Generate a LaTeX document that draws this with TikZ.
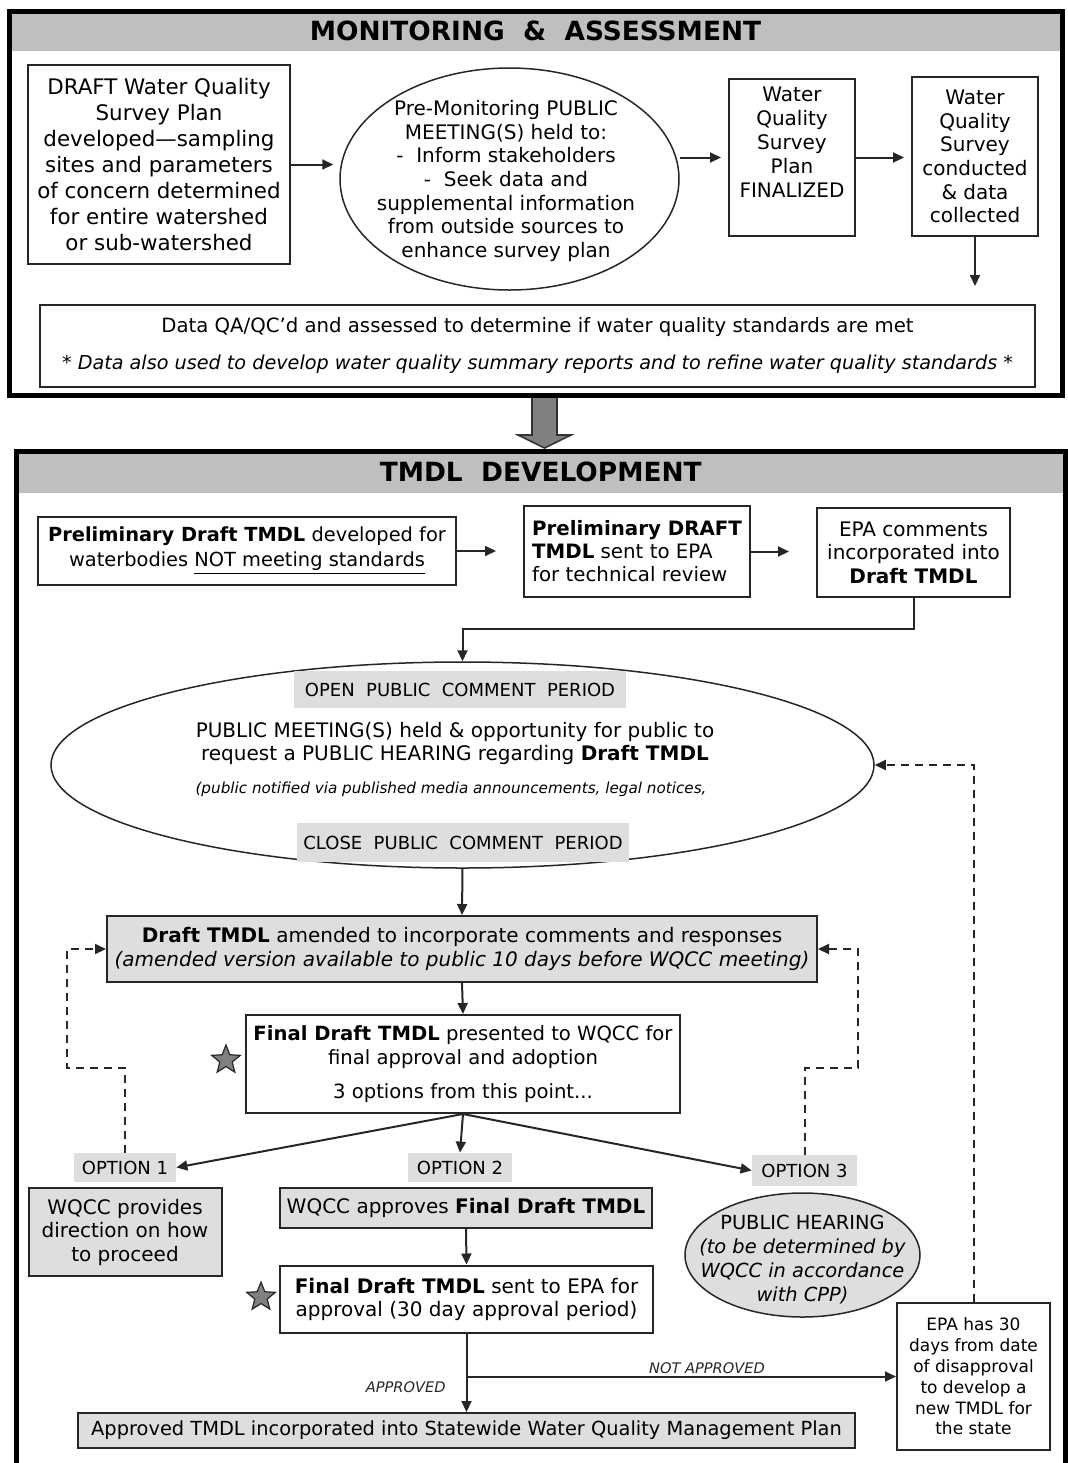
\documentclass[tikz,border=0pt]{standalone}
\usepackage{fontspec}
\setmainfont{DejaVu Sans}
\usepackage{tikz}
\usetikzlibrary{positioning}
\usetikzlibrary{calc}
\usetikzlibrary{shapes.geometric}
\usetikzlibrary{arrows.meta}
\colorlet{panel colour}{black}
\colorlet{heading colour}{black!25}
\colorlet{shade colour}{black!13}
\colorlet{line colour}{black!85}
\colorlet{star colour}{black!50}
\tikzset{
    % Small filled triangles on every flow line
    >={Triangle[length=5.5pt, width=5pt]},
%
    % Fills
    heading fill/.style={fill=heading colour},
    shade fill/.style={fill=shade colour},
    % Lines
    flow/.style={draw, color=line colour, line width=1pt, ->},
    feedback/.style={flow, dash pattern=on 4pt off 3pt},
%
    % Centred text unless a node asks otherwise
    every node/.style={align=center},
    body font/.style={font=\fontsize{10}{12}\selectfont},
%
    panel/.style={draw=panel colour, line width=2.5pt, inner sep=0},
    heading/.style={
        heading fill, inner sep=0, font=\fontsize{13.2}{15}\selectfont\bfseries},
    box/.style={
        draw=line colour, line width=1pt, fill=white, inner sep=0, body font},
    grey box/.style={box, shade fill},
    % Ellipses are drawn empty, their text sits in a node of its own
    meeting/.style={
        ellipse, draw=line colour, line width=0.75pt, inner sep=0},
    tag/.style={shade fill, inner sep=0, font=\fontsize{9}{11}\selectfont},
    outcome/.style={inner sep=1pt, font=\fontsize{7.3}{9}\selectfont\itshape},
    milestone/.style={
        star, star points=5, star point ratio=2.3, draw=line colour,
        fill=star colour, line width=0.6pt, inner sep=0, minimum size=15pt},
    handoff/.style={fill=black!50, draw=black!80, line width=0.8pt},
}

\begin{document}
\begin{tikzpicture}[x=0.5pt, y=-0.5pt]
\useasboundingbox (0,0) rectangle (1067,1463);

% Arrow handing over from the first panel to the second
\draw [handoff] (532,396) -- (557,396) -- (557,435) -- (571,435)
    -- (544.5,448) -- (518,435) -- (532,435) -- cycle;

% Monitoring & assessment
\path
    (535.5,31) node [heading, minimum width=525pt, minimum height=20pt] (monhead)
        {MONITORING\ \ \&\ \ ASSESSMENT}
    (535.5,203) node [panel, minimum width=526.5pt, minimum height=192pt] (monitor) {};

\path
    (159,164.5) node [box, minimum width=131pt, minimum height=99.5pt,
        font=\fontsize{10.7}{13}\selectfont] (draftplan)
        {DRAFT Water Quality\\ Survey Plan\\ developed—sampling\\ sites and parameters\\
         of concern determined\\ for entire watershed\\ or sub-watershed}
    (509.5,179) node [meeting, minimum width=169.5pt, minimum height=111pt] (premeet) {}
    (506,181) node [font=\fontsize{10}{11.85}\selectfont] (premeettext)
        {Pre-Monitoring PUBLIC\\ MEETING(S) held to:\\ -\ \ Inform stakeholders\\
         -\ \ Seek data and\\ supplemental information\\ from outside sources to\\
         enhance survey plan}
    (792,157.5) node [box, minimum width=63pt, minimum height=78.5pt] (finalplan)
        {Water\\ Quality\\ Survey\\ Plan\\ FINALIZED\\ \strut}
    (975,156.5) node [box, minimum width=63pt, minimum height=79.5pt,
        font=\fontsize{10}{11.8}\selectfont] (survey)
        {Water\\ Quality\\ Survey\\ conducted\\ \& data\\ collected}
    (537.5,346) node [box, minimum width=497.5pt, minimum height=41pt,
        font=\fontsize{9.85}{12}\selectfont] (assess)
        {Data QA/QC’d and assessed to determine if water quality standards are met\\[6.5pt]
         \fontsize{9.6}{12}\selectfont
         \textit{* Data also used to develop water quality summary reports and to refine water quality standards *}};

\draw [flow, shorten >=3pt] (draftplan.east) -- (draftplan.east -| premeet.west);
\draw [flow, shorten >=3.5pt] (premeet.east |- finalplan.west) -- (finalplan.west);
\draw [flow, shorten >=3.5pt] (finalplan.east) -- (finalplan.east -| survey.west);
\draw [flow, shorten >=9pt] (survey.south) -- (survey.south |- assess.north);

% TMDL development
\path
    (540.75,472) node [heading, minimum width=524.25pt, minimum height=21pt] (tmdlhead)
        {TMDL\ \ DEVELOPMENT}
    (540.75,965.5) node [panel, minimum width=524.25pt, minimum height=514.5pt] (tmdl) {};

\path
    (247,551) node [box, minimum width=209pt, minimum height=34pt,
        font=\fontsize{9.7}{12.5}\selectfont] (prelim)
        {\textbf{Preliminary Draft TMDL} developed for\\
         waterbodies \underline{NOT meeting standards}}
    (637,551.5) node [box, align=left, minimum width=113pt, minimum height=45.5pt,
        font=\fontsize{9.9}{11.5}\selectfont] (techreview)
        {\textbf{Preliminary DRAFT}\\ \textbf{TMDL} sent to EPA\\ for technical review}
    (913.5,552.5) node [box, minimum width=96.5pt, minimum height=44.5pt,
        font=\fontsize{10}{11.75}\selectfont] (epacomment)
        {EPA comments\\ incorporated into\\ \textbf{Draft TMDL}}
%
    (462.5,765) node [meeting, minimum width=411.5pt, minimum height=103pt] (pubmeet) {}
    (460,689.5) node [tag, minimum width=166pt, minimum height=18.5pt] (opencomment)
        {OPEN\ \ PUBLIC\ \ COMMENT\ \ PERIOD}
    (455,743.5) node [font=\fontsize{10}{11.5}\selectfont] (pubtext)
        {PUBLIC MEETING(S) held \& opportunity for public to\\
         request a PUBLIC HEARING regarding \textbf{Draft TMDL}}
    (451,789) node [font=\fontsize{7.6}{9}\selectfont\itshape] (notice)
        {(public notified via published media announcements, legal notices,}
    (463,842.5) node [tag, minimum width=166pt, minimum height=19.5pt] (closecomment)
        {CLOSE\ \ PUBLIC\ \ COMMENT\ \ PERIOD}
%
    (462,949) node [grey box, minimum width=355pt, minimum height=33pt] (amended)
        {\textbf{Draft TMDL} amended to incorporate comments and responses\\
         \textit{(amended version available to public 10 days before WQCC meeting)}}
    (463,1064) node [box, minimum width=217pt, minimum height=49pt,
        font=\fontsize{9.8}{12}\selectfont] (presented)
        {\textbf{Final Draft TMDL} presented to WQCC for\\ final approval and adoption\\[5pt]
         3 options from this point...}
    (226,1060) node [milestone] (star1) {}
%
    (125,1167.5) node [tag, minimum width=51pt, minimum height=14.5pt] (option1) {OPTION 1}
    (460,1167.5) node [tag, minimum width=52pt, minimum height=14.5pt] (option2) {OPTION 2}
    (804.5,1170.5) node [tag, minimum width=52.5pt, minimum height=15.5pt] (option3) {OPTION 3}
    (125,1232) node [grey box, minimum width=96.5pt, minimum height=44pt,
        font=\fontsize{10}{11.75}\selectfont] (direction)
        {WQCC provides\\ direction on how\\ to proceed}
    (466,1207.5) node [grey box, minimum width=186pt, minimum height=20pt] (approves)
        {WQCC approves \textbf{Final Draft TMDL}}
    (466.5,1299) node [box, minimum width=186.5pt, minimum height=33.5pt,
        font=\fontsize{10}{11.5}\selectfont] (toepa)
        {\textbf{Final Draft TMDL} sent to EPA for\\ approval (30 day approval period)}
    (261,1297) node [milestone] (star2) {}
    (802.5,1255) node [meeting, shade fill, minimum width=117.5pt, minimum height=62pt] (hearing) {}
    (802.5,1260) node [font=\fontsize{9.7}{12}\selectfont] (hearingtext)
        {PUBLIC HEARING\\ \textit{(to be determined by}\\ \textit{WQCC in accordance}\\
         \textit{with CPP)}}
    (973.5,1376.5) node [box, minimum width=76.5pt, minimum height=73.5pt,
        font=\fontsize{8.5}{10.4}\selectfont] (newtmdl)
        {EPA has 30\\ days from date\\ of disapproval\\ to develop a\\ new TMDL for\\ the state}
    (466.5,1430.5) node [grey box, minimum width=388.5pt, minimum height=17.5pt,
        font=\fontsize{9.7}{11}\selectfont] (statewide)
        {Approved TMDL incorporated into Statewide Water Quality Management Plan};

\draw [flow, shorten >=13.5pt] (prelim.east) -- (prelim.east -| techreview.west);
\draw [flow, shorten >=13.5pt] (techreview.east) -- (techreview.east -| epacomment.west);
\draw [flow] (epacomment.south) -- ++(0,31) -| (pubmeet.north);
\draw [flow] (pubmeet.south) -- (amended.north);
\draw [flow] (amended.south) -- (presented.north);
\draw [flow] (presented.south) -- (option1.east);
\draw [flow] (presented.south) -- (option2.north);
\draw [flow] (presented.south) -- (option3.west);
\draw [flow] (approves.south) -- (toepa.north);
\draw [flow] (toepa.south) -- (toepa.south |- statewide.north)
    node [outcome, pos=0.69, left=9pt] {APPROVED};
\draw [flow] (toepa.south) |- (newtmdl.west)
    node [outcome, pos=0.78, above] {NOT APPROVED};

% Dashed paths back into the review loop
\draw [feedback] (option1.north) -- ++(0,-85) -- ++(-58,0) |- (amended.west);
\draw [feedback] (option3.north) -- ++(0,-87) -- ++(53.5,0) |- (amended.east);
\draw [feedback] (newtmdl.north) |- (pubmeet.east);

\end{tikzpicture}
\end{document}
